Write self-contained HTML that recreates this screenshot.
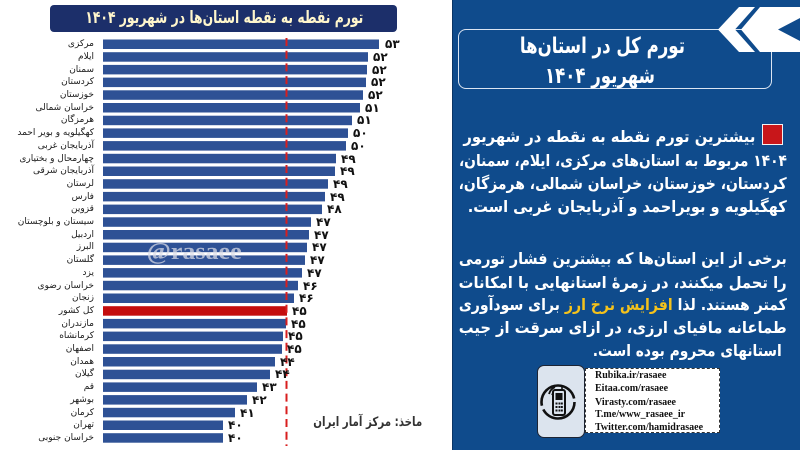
<!DOCTYPE html>
<html><head><meta charset="utf-8">
<style>
html,body{margin:0;padding:0;}
body{width:800px;height:450px;overflow:hidden;background:#fff;position:relative;font-family:"DejaVu Sans","Liberation Sans",sans-serif;}
.abs{position:absolute;}
.fit{position:absolute;text-align:right;white-space:nowrap;direction:rtl;}
.fit>span{display:inline-block;white-space:nowrap;transform-origin:100% 50%;}
.lbl{position:absolute;right:706px;height:12px;line-height:12px;font-size:9px;color:#1a1a1a;direction:rtl;white-space:nowrap;}
.val{position:absolute;height:14px;line-height:14px;font-size:12px;font-weight:bold;color:#111;white-space:nowrap;}
.p{color:#fff;font-weight:bold;font-size:16px;height:23px;line-height:23px;}
.ct{position:absolute;left:595px;font-family:"Liberation Serif",serif;font-weight:bold;font-size:10px;color:#111;height:13px;line-height:13px;white-space:nowrap;}
</style></head><body>

<!-- Left title -->
<div class="abs" style="left:50px;top:5px;width:347px;height:27px;background:#1c2f6a;border-radius:4px;"></div>
<div class="fit" style="left:85px;top:6px;width:278px;height:24px;line-height:24px;font-size:17px;font-weight:bold;color:#fff6cc;"><span>تورم نقطه به نقطه استان‌ها در شهریور ۱۴۰۴</span></div>

<!-- Bars -->
<svg class="abs" style="left:0;top:0" width="452" height="450" xmlns="http://www.w3.org/2000/svg">
<g fill="#2e5195">
<rect x="103" y="39.5" width="276" height="9.5"/>
<rect x="103" y="52.2" width="265" height="9.5"/>
<rect x="103" y="64.9" width="264" height="9.5"/>
<rect x="103" y="77.6" width="263" height="9.5"/>
<rect x="103" y="90.3" width="260" height="9.5"/>
<rect x="103" y="103.0" width="257" height="9.5"/>
<rect x="103" y="115.7" width="249" height="9.5"/>
<rect x="103" y="128.4" width="245" height="9.5"/>
<rect x="103" y="141.1" width="243" height="9.5"/>
<rect x="103" y="153.8" width="233" height="9.5"/>
<rect x="103" y="166.5" width="232" height="9.5"/>
<rect x="103" y="179.2" width="225" height="9.5"/>
<rect x="103" y="191.9" width="222" height="9.5"/>
<rect x="103" y="204.6" width="219" height="9.5"/>
<rect x="103" y="217.3" width="208" height="9.5"/>
<rect x="103" y="230.0" width="206" height="9.5"/>
<rect x="103" y="242.7" width="204" height="9.5"/>
<rect x="103" y="255.4" width="202" height="9.5"/>
<rect x="103" y="268.1" width="199" height="9.5"/>
<rect x="103" y="280.8" width="195" height="9.5"/>
<rect x="103" y="293.5" width="191" height="9.5"/>
<rect x="103" y="318.9" width="183" height="9.5"/>
<rect x="103" y="331.6" width="180" height="9.5"/>
<rect x="103" y="344.3" width="179" height="9.5"/>
<rect x="103" y="357.0" width="172" height="9.5"/>
<rect x="103" y="369.7" width="167" height="9.5"/>
<rect x="103" y="382.4" width="154" height="9.5"/>
<rect x="103" y="395.1" width="144" height="9.5"/>
<rect x="103" y="407.8" width="132" height="9.5"/>
<rect x="103" y="420.5" width="120" height="9.5"/>
<rect x="103" y="433.2" width="120" height="9.5"/>
</g>
<rect x="103" y="306.2" width="184" height="9.5" fill="#c40d0d"/>
<line x1="286.5" y1="38" x2="286.5" y2="446" stroke="#d81e1e" stroke-width="2" stroke-dasharray="8 4.7"/>
</svg>

<!-- watermark -->
<div class="fit" style="left:147px;top:241px;width:95px;height:22px;line-height:22px;font-family:'Liberation Serif',serif;font-size:24px;font-weight:bold;color:rgba(220,222,232,0.72);direction:ltr;"><span>@rasaee</span></div>

<!-- Row labels -->
<div class="lbl" style="top:38.2px">مرکزی</div>
<div class="lbl" style="top:50.9px">ایلام</div>
<div class="lbl" style="top:63.6px">سمنان</div>
<div class="lbl" style="top:76.3px">کردستان</div>
<div class="lbl" style="top:89.0px">خوزستان</div>
<div class="lbl" style="top:101.7px">خراسان شمالی</div>
<div class="lbl" style="top:114.4px">هرمزگان</div>
<div class="lbl" style="top:127.1px">کهگیلویه و بویر احمد</div>
<div class="lbl" style="top:139.8px">آذربایجان غربی</div>
<div class="lbl" style="top:152.5px">چهارمحال و بختیاری</div>
<div class="lbl" style="top:165.2px">آذربایجان شرقی</div>
<div class="lbl" style="top:177.9px">لرستان</div>
<div class="lbl" style="top:190.6px">فارس</div>
<div class="lbl" style="top:203.3px">قزوین</div>
<div class="lbl" style="top:216.0px">سیستان و بلوچستان</div>
<div class="lbl" style="top:228.7px">اردبیل</div>
<div class="lbl" style="top:241.4px">البرز</div>
<div class="lbl" style="top:254.1px">گلستان</div>
<div class="lbl" style="top:266.8px">یزد</div>
<div class="lbl" style="top:279.5px">خراسان رضوی</div>
<div class="lbl" style="top:292.2px">زنجان</div>
<div class="lbl" style="top:304.9px">کل کشور</div>
<div class="lbl" style="top:317.6px">مازندران</div>
<div class="lbl" style="top:330.3px">کرمانشاه</div>
<div class="lbl" style="top:343.0px">اصفهان</div>
<div class="lbl" style="top:355.7px">همدان</div>
<div class="lbl" style="top:368.4px">گیلان</div>
<div class="lbl" style="top:381.1px">قم</div>
<div class="lbl" style="top:393.8px">بوشهر</div>
<div class="lbl" style="top:406.5px">کرمان</div>
<div class="lbl" style="top:419.2px">تهران</div>
<div class="lbl" style="top:431.9px">خراسان جنوبی</div>

<!-- Values -->
<div class="val" style="left:385px;top:37.2px">۵۳</div>
<div class="val" style="left:373px;top:49.9px">۵۲</div>
<div class="val" style="left:372px;top:62.6px">۵۲</div>
<div class="val" style="left:371px;top:75.3px">۵۲</div>
<div class="val" style="left:368px;top:88.0px">۵۲</div>
<div class="val" style="left:365px;top:100.7px">۵۱</div>
<div class="val" style="left:357px;top:113.4px">۵۱</div>
<div class="val" style="left:353px;top:126.1px">۵۰</div>
<div class="val" style="left:351px;top:138.8px">۵۰</div>
<div class="val" style="left:341px;top:151.5px">۴۹</div>
<div class="val" style="left:340px;top:164.2px">۴۹</div>
<div class="val" style="left:333px;top:176.9px">۴۹</div>
<div class="val" style="left:330px;top:189.6px">۴۹</div>
<div class="val" style="left:327px;top:202.3px">۴۸</div>
<div class="val" style="left:316px;top:215.0px">۴۷</div>
<div class="val" style="left:314px;top:227.7px">۴۷</div>
<div class="val" style="left:312px;top:240.4px">۴۷</div>
<div class="val" style="left:310px;top:253.1px">۴۷</div>
<div class="val" style="left:307px;top:265.8px">۴۷</div>
<div class="val" style="left:303px;top:278.5px">۴۶</div>
<div class="val" style="left:299px;top:291.2px">۴۶</div>
<div class="val" style="left:292px;top:303.9px">۴۵</div>
<div class="val" style="left:291px;top:316.6px">۴۵</div>
<div class="val" style="left:288px;top:329.3px">۴۵</div>
<div class="val" style="left:287px;top:342.0px">۴۵</div>
<div class="val" style="left:280px;top:354.7px">۴۴</div>
<div class="val" style="left:275px;top:367.4px">۴۴</div>
<div class="val" style="left:262px;top:380.1px">۴۳</div>
<div class="val" style="left:252px;top:392.8px">۴۲</div>
<div class="val" style="left:240px;top:405.5px">۴۱</div>
<div class="val" style="left:228px;top:418.2px">۴۰</div>
<div class="val" style="left:228px;top:430.9px">۴۰</div>

<!-- Source -->
<div class="fit" style="left:313px;top:415px;width:109px;height:16px;line-height:16px;font-size:13px;font-weight:bold;color:#333;"><span>ماخذ: مرکز آمار ایران</span></div>

<!-- Right panel -->
<div class="abs" style="left:452px;top:0;width:348px;height:450px;background:#0f4b8c;border-left:1px solid #0a3566;box-sizing:border-box;"></div>
<div class="abs" style="left:458px;top:29px;width:314px;height:60px;border:1.5px solid #dbe5f2;border-radius:8px;box-sizing:border-box;"></div>
<svg class="abs" style="left:0;top:0" width="800" height="60" xmlns="http://www.w3.org/2000/svg">
<polygon points="739,7 755,7 735,29.5 755,52 739,52 718,29.5" fill="#fff"/>
<polygon points="760,7 800,7 800,18 778,29.5 800,41 800,52 760,52 741,29.5" fill="#fff"/>
</svg>
<div class="fit" style="left:520px;top:33px;width:165px;height:28px;line-height:28px;font-size:22px;font-weight:bold;color:#fff;"><span>تورم کل در استان‌ها</span></div>
<div class="fit" style="left:545px;top:63px;width:110px;height:28px;line-height:28px;font-size:22px;font-weight:bold;color:#fff;"><span>شهریور ۱۴۰۴</span></div>

<!-- Paragraph 1 -->
<div class="abs" style="left:762px;top:124px;width:21px;height:21px;background:#c8161a;border:1.5px solid #f2f2f2;box-sizing:border-box;"></div>
<div class="fit p" style="left:463px;top:124.5px;width:292px;"><span>بیشترین تورم نقطه به نقطه در شهریور</span></div>
<div class="fit p" style="left:459px;top:148.5px;width:328px;"><span>۱۴۰۴ مربوط به استان‌های مرکزی، ایلام، سمنان،</span></div>
<div class="fit p" style="left:459px;top:171.5px;width:328px;"><span>کردستان، خوزستان، خراسان شمالی، هرمزگان،</span></div>
<div class="fit p" style="left:468px;top:194.5px;width:319px;"><span>کهگیلویه و بویراحمد و آذربایجان غربی است.</span></div>

<!-- Paragraph 2 -->
<div class="fit p" style="left:459px;top:246.5px;width:328px;"><span>برخی از این استان‌ها که بیشترین فشار تورمی</span></div>
<div class="fit p" style="left:459px;top:270.5px;width:328px;"><span>را تحمل میکنند، در زمرهٔ استانهایی با امکانات</span></div>
<div class="fit p" style="left:459px;top:292.5px;width:328px;"><span>کمتر هستند. لذا <b style="color:#f4c21c">افزایش نرخ ارز</b> برای سودآوری</span></div>
<div class="fit p" style="left:459px;top:315.5px;width:328px;"><span>طماعانه مافیای ارزی، در ازای سرقت از جیب</span></div>
<div class="fit p" style="left:593px;top:338.5px;width:189px;"><span>استانهای محروم بوده است.</span></div>

<!-- Contact box -->
<div class="abs" style="left:585px;top:368px;width:135px;height:65px;background:#fff;border:1.5px dashed #333;box-sizing:border-box;"></div>
<div class="abs" style="left:537px;top:365px;width:48px;height:73px;background:#dce4ee;border:1.5px solid #1d2433;border-radius:7px;box-sizing:border-box;"></div>
<svg class="abs" style="left:537px;top:365px" width="48" height="73" xmlns="http://www.w3.org/2000/svg">
<circle cx="21" cy="37" r="16.5" fill="none" stroke="#111" stroke-width="2.6" stroke-dasharray="44 4 52 4"/>
<path d="M12 29 a11 11 0 0 1 6 -7" fill="none" stroke="#111" stroke-width="1.8"/>
<path d="M15 30 a7 7 0 0 1 4 -4.5" fill="none" stroke="#111" stroke-width="1.6"/>
<line x1="25" y1="20" x2="25" y2="26" stroke="#111" stroke-width="1.6"/>
<rect x="16" y="25" width="12" height="25" rx="2" fill="#dce4ee" stroke="#111" stroke-width="2"/>
<rect x="18.5" y="28" width="7" height="7" fill="#111"/>
<g fill="#111">
<rect x="18.5" y="37.5" width="2" height="2"/><rect x="21.5" y="37.5" width="2" height="2"/><rect x="24" y="37.5" width="1.8" height="2"/>
<rect x="18.5" y="41" width="2" height="2"/><rect x="21.5" y="41" width="2" height="2"/><rect x="24" y="41" width="1.8" height="2"/>
<rect x="18.5" y="44.5" width="2" height="2"/><rect x="21.5" y="44.5" width="2" height="2"/><rect x="24" y="44.5" width="1.8" height="2"/>
</g>
</svg>
<div class="ct" style="top:368.5px">Rubika.ir/rasaee</div>
<div class="ct" style="top:382px">Eitaa.com/rasaee</div>
<div class="ct" style="top:395.5px">Virasty.com/rasaee</div>
<div class="ct" style="top:408px">T.me/www_rasaee_ir</div>
<div class="ct" style="top:420.5px">Twitter.com/hamidrasaee</div>

<script>
(function(){
  var els=document.querySelectorAll('.fit');
  for(var i=0;i<els.length;i++){
    var el=els[i], s=el.firstElementChild;
    if(!s) continue;
    var w=s.getBoundingClientRect().width, t=el.clientWidth;
    if(w>0&&t>0){ s.style.transform='scaleX('+(t/w)+')'; }
  }
})();
</script>
</body></html>
